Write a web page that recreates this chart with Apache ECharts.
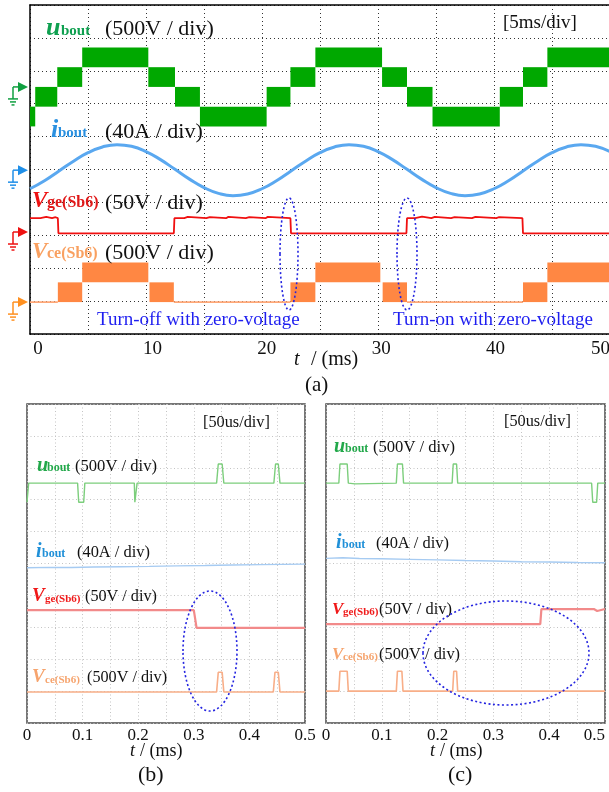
<!DOCTYPE html>
<html>
<head>
<meta charset="utf-8">
<script src="https://cdn.jsdelivr.net/npm/echarts@6/dist/echarts.min.js"></script>
<style>
html, body { margin: 0; padding: 0; background: #fff; }
#chart { width: 609px; height: 792px; }
</style>
</head>
<body>
<div id="chart"></div>
<script>
// ---- panel (a): 5 ms/div, time in ms ----
// u_bout PWM bands: [t start, t end, low V, high V]
const aUBands = [
  [0, 0.45, -600, -300], [0.45, 2.35, -300, 0], [2.35, 4.5, 0, 300], [4.5, 10.2, 300, 600],
  [10.2, 12.5, 0, 300], [12.5, 14.65, -300, 0], [14.65, 20.4, -600, -300], [20.4, 22.45, -300, 0],
  [22.45, 24.6, 0, 300], [24.6, 30.35, 300, 600], [30.35, 32.5, 0, 300], [32.5, 34.7, -300, 0],
  [34.7, 40.5, -600, -300], [40.5, 42.5, -300, 0], [42.5, 44.6, 0, 300], [44.6, 50, 300, 600]
];
// i_bout (A)
const aI = [
  [0, -22.6], [1.25, -12.8], [2.5, -1.0], [3.75, 10.9], [5, 21.2], [6.25, 28.2], [7.5, 31.0], [8.75, 29.0],
  [10, 22.6], [11.25, 12.8], [12.5, 1.0], [13.75, -10.9], [15, -21.2], [16.25, -28.2], [17.5, -31.0], [18.75, -29.0],
  [20, -22.6], [21.25, -12.8], [22.5, -1.0], [23.75, 10.9], [25, 21.2], [26.25, 28.2], [27.5, 31.0], [28.75, 29.0],
  [30, 22.6], [31.25, 12.8], [32.5, 1.0], [33.75, -10.9], [35, -21.2], [36.25, -28.2], [37.5, -31.0], [38.75, -29.0],
  [40, -22.6], [41.25, -12.8], [42.5, -1.0], [43.75, 10.9], [45, 21.2], [46.25, 28.2], [47.5, 31.0], [48.75, 29.0],
  [50, 22.6]
];
// V_ge(Sb6) (V)
const aVge = [
  [0, 21], [0.9, 21], [0.9, 23], [1.4, 23], [1.4, 21], [1.9, 21], [1.9, 22.5], [2.2, 22.5], [2.2, 21],
  [2.4, 21], [2.45, -2], [12.4, -2], [12.45, 21],
  [13.3, 21], [13.3, 23], [13.6, 23], [13.6, 21], [15.2, 21], [15.2, 22.5], [15.5, 22.5], [15.5, 21],
  [16.9, 21], [16.9, 23], [17.1, 23], [17.1, 21], [18.6, 21], [18.6, 22.5], [18.9, 22.5], [18.9, 21],
  [20.3, 21], [20.3, 23], [20.5, 23], [20.5, 21],
  [22.45, 21], [22.5, -2], [32.45, -2], [32.5, 21],
  [33.2, 21], [33.2, 23.5], [33.8, 23.5], [33.8, 21], [34.6, 21], [34.6, 23], [34.9, 23], [34.9, 21],
  [36.3, 21], [36.3, 22.5], [36.6, 22.5], [36.6, 21], [38.1, 21], [38.1, 23], [38.4, 23], [38.4, 21],
  [40.2, 21], [40.2, 22.5], [40.4, 22.5], [40.4, 21],
  [42.45, 21], [42.5, -2], [50, -2]
];
// V_ce(Sb6) bands and the 0 V stretches
const aVceBands = [
  [2.4, 4.5, 0, 300], [4.5, 10.2, 300, 600], [10.3, 12.4, 0, 300],
  [22.45, 24.6, 0, 300], [24.6, 30.2, 300, 600], [30.4, 32.5, 0, 300],
  [42.5, 44.6, 0, 300], [44.6, 50, 300, 600]
];
const aVceZero = [[0, 2.4], [12.4, 22.45], [32.5, 42.5]];
const aTickLabels = [0, 10, 20, 30, 40, 50];

// ---- panel (b): 50 us/div, time in ms ----
const bU = [
  [0, -300], [0.002, -300], [0.003, 0], [0.091, 0], [0.093, -300], [0.102, -300], [0.104, 0],
  [0.193, 0], [0.194, -300], [0.197, -300], [0.198, 0], [0.341, 0], [0.344, 300], [0.351, 300], [0.354, 0],
  [0.444, 0], [0.447, 300], [0.452, 300], [0.455, 0], [0.5, 0]
];
const bI = [[0, -3.4], [0.04, -2.9], [0.08, -3.0], [0.12, -2.4], [0.17, -2.0], [0.22, -1.6], [0.27, -1.0],
  [0.32, -0.6], [0.37, 0.2], [0.42, 0.6], [0.46, 0.9], [0.5, 1.2]];
const bVge = [
  [0, 25], [0.196, 25], [0.197, 23], [0.199, 25], [0.300, 25], [0.302, 14], [0.305, -3],
  [0.346, -3], [0.347, -4.5], [0.350, -3], [0.445, -3], [0.446, -4.5], [0.449, -3], [0.5, -3]
];
const bVce = [
  [0, 0], [0.341, 0], [0.344, 310], [0.351, 310], [0.354, 0],
  [0.443, 0], [0.446, 310], [0.452, 310], [0.455, 0], [0.5, 0]
];

// ---- panel (c) ----
const cU = [
  [0, 0], [0.023, 0], [0.025, 300], [0.038, 300], [0.040, 0], [0.041, -12], [0.052, -12], [0.053, 0],
  [0.126, 0], [0.128, 300], [0.137, 300], [0.139, 0], [0.226, 0], [0.228, 300], [0.234, 300], [0.236, 0],
  [0.476, 0], [0.478, -300], [0.485, -300], [0.487, 0], [0.5, 0]
];
const cI = [[0, 2.0], [0.03, 2.8], [0.06, 1.8], [0.1, 1.5], [0.15, 0.8], [0.2, 0.2], [0.25, -0.6],
  [0.3, -1.2], [0.35, -2.2], [0.4, -2.6], [0.45, -3.2], [0.5, -3.4]];
const cVge = [[0, 3], [0.384, 3], [0.386, 26.6], [0.480, 26.6], [0.481, 23.5], [0.486, 23.5], [0.487, 26.6], [0.5, 26.6]];
const cVce = [
  [0, 0], [0.023, 0], [0.025, 310], [0.038, 310], [0.040, 0], [0.126, 0], [0.128, 310], [0.136, 310], [0.138, 0],
  [0.227, 0], [0.229, 310], [0.234, 310], [0.236, 0], [0.5, 0]
];

// per-division scales and zero offsets (divisions from bottom) of each trace
const perDiv = [500, 40, 50, 500];          // u, i, Vge, Vce
const offA = [7.51, 4.98, 3.10, 0.97];
const offB = [7.52, 4.95, 3.04, 0.97];
const offC = [7.52, 5.11, 3.04, 1.00];

const FONT = '"Liberation Serif", "Times New Roman", serif';
const chart = echarts.init(document.getElementById('chart'));

function bandItem(params, api) {
  const a = api.coord([api.value(0), api.value(3)]);
  const b = api.coord([api.value(1), api.value(2)]);
  return { type: 'rect', shape: { x: a[0], y: a[1], width: b[0] - a[0], height: b[1] - a[1] },
    style: { fill: api.visual('color') } };
}
function groundItem(params, api) {
  const p = api.coord([api.value(0), api.value(1)]);
  const c = api.visual('color');
  const sx = p[0] - 17, y = p[1];
  const ln = (x1, y1, x2, y2) => ({ type: 'line', shape: { x1, y1, x2, y2 }, style: { stroke: c, lineWidth: 1.5 } });
  return { type: 'group', children: [
    { type: 'polygon', shape: { points: [[p[0] - 12, y - 5], [p[0] - 2, y], [p[0] - 12, y + 5]] }, style: { fill: c } },
    ln(sx, y, p[0] - 12, y), ln(sx, y, sx, y + 12),
    ln(sx - 5, y + 12, sx + 5, y + 12), ln(sx - 3, y + 15, sx + 3, y + 15), ln(sx - 1.5, y + 18, sx + 1.5, y + 18)
  ] };
}

const frameA = { show: true, onZero: false, lineStyle: { color: '#000', width: 1.5 } };

function traceAxis(g, off, k) {
  return { type: 'value', gridIndex: g, min: -off * k, max: (10 - off) * k, show: false };
}
function divAxis(g, color, dash) {
  return { type: 'value', gridIndex: g, min: 0, max: 10, interval: 1, position: 'left',
    axisLine: g === 0 ? frameA : { show: false }, axisTick: { show: false }, axisLabel: { show: false },
    splitLine: { show: true, lineStyle: { color: color, type: dash, width: 1 } } };
}
const yAxes = [];
[[offA, '#333', [1, 3]], [offB, '#c4c4c4', [1, 2.5]], [offC, '#c4c4c4', [1, 2.5]]].forEach((cfg, g) => {
  yAxes.push(divAxis(g, cfg[1], cfg[2]));
  cfg[0].forEach((o, k) => yAxes.push(traceAxis(g, o, perDiv[k])));
});
const yIdx = (g, k) => g * 5 + 1 + k;

const lightGrid = { color: '#c4c4c4', type: [1, 2.5], width: 1 };
function msAxis(g, alignMax) {
  return { type: 'value', gridIndex: g, min: 0, max: 0.5, interval: 0.1, position: 'bottom',
    axisLine: { show: false }, axisTick: { show: false },
    axisLabel: { margin: 4, fontSize: 17, fontFamily: FONT, color: '#111', alignMaxLabel: alignMax,
      formatter: v => (v === 0 ? '0' : v.toFixed(1)) },
    splitLine: { show: true, lineStyle: lightGrid },
    minorTick: { show: false, splitNumber: 2 },
    minorSplitLine: { show: true, lineStyle: lightGrid } };
}

const xAxes = [
  { type: 'value', gridIndex: 0, min: 0, max: 50, interval: 5, position: 'bottom',
    axisLine: frameA, axisTick: { show: false }, axisLabel: { show: false },
    splitLine: { show: true, lineStyle: { color: '#333', type: [1, 3], width: 1 } } },
  { type: 'value', gridIndex: 0, min: -0.7, max: 50, position: 'bottom',
    axisLine: { show: false }, axisTick: { show: false }, splitLine: { show: false },
    axisLabel: { margin: 6, fontSize: 19, fontFamily: FONT, color: '#111', alignMaxLabel: 'right',
      formatter: v => (aTickLabels.indexOf(Math.round(v * 1000) / 1000) >= 0 ? String(v) : '') } },
  { type: 'value', gridIndex: 0, min: 0, max: 50, position: 'top',
    axisLine: frameA, axisTick: { show: false }, axisLabel: { show: false }, splitLine: { show: false } },
  msAxis(1, 'center'),
  msAxis(2, 'right')
];

const series = [];
function line(xi, yi, data, color, width, smooth) {
  series.push({ type: 'line', xAxisIndex: xi, yAxisIndex: yi, data: data, symbol: 'none', smooth: !!smooth,
    silent: true, lineStyle: { color: color, width: width }, itemStyle: { color: color } });
}
function bands(xi, yi, data, color) {
  series.push({ type: 'custom', xAxisIndex: xi, yAxisIndex: yi, data: data, renderItem: bandItem,
    encode: { x: [0, 1], y: [2, 3] }, itemStyle: { color: color }, silent: true, clip: true });
}
function ground(yi, color) {
  series.push({ type: 'custom', xAxisIndex: 0, yAxisIndex: yi, data: [[0, 0]], renderItem: groundItem,
    itemStyle: { color: color }, silent: true, clip: false, z: 5 });
}

// (a)
bands(0, yIdx(0, 0), aUBands, '#00a800');
line(0, yIdx(0, 1), aI, '#5aa8f0', 3, 0.5);
line(0, yIdx(0, 2), aVge, '#f01010', 1.8);
const aVceLine = [];
aVceZero.forEach(s => { aVceLine.push([s[0], 0], [s[1], 0], [s[1], '-']); });
line(0, yIdx(0, 3), aVceLine, '#ffa878', 1.8);
bands(0, yIdx(0, 3), aVceBands, '#ff8743');
ground(yIdx(0, 0), '#10a040');
ground(yIdx(0, 1), '#1f8fe8');
ground(yIdx(0, 2), '#ee1111');
ground(yIdx(0, 3), '#ff9020');

// (b)
line(3, yIdx(1, 0), bU, '#7cce7c', 1.4);
line(3, yIdx(1, 1), bI, '#a6cbf2', 1.4);
line(3, yIdx(1, 2), bVge, '#f28a8a', 2.2);
line(3, yIdx(1, 3), bVce, '#f8ae88', 1.6);
// (c)
line(4, yIdx(2, 0), cU, '#7cce7c', 1.4);
line(4, yIdx(2, 1), cI, '#a6cbf2', 1.4);
line(4, yIdx(2, 2), cVge, '#f28a8a', 2.2);
line(4, yIdx(2, 3), cVce, '#f8ae88', 1.6);

// text helpers
function txt(x, base, s, size, color, style) {
  return { type: 'text', x: x, y: base - 0.3 * size, silent: true, z: 10,
    style: { text: s, font: (style || '') + ' ' + size + 'px ' + FONT, fill: color || '#111',
      align: 'left', verticalAlign: 'middle' } };
}
function ell(cx, cy, rx, ry) {
  return { type: 'ellipse', shape: { cx, cy, rx, ry }, silent: true, z: 10,
    style: { fill: 'none', stroke: '#2424e0', lineWidth: 1.6, lineDash: [2, 2.5] } };
}
const BI = 'italic bold', B = 'bold';
const g = [
  // (a)
  txt(46, 36, 'u', 26, '#0fa050', BI), txt(61, 36, 'bout', 15, '#0fa050', B), txt(105, 36, '(500V / div)', 22),
  txt(503, 29, '[5ms/div]', 19),
  txt(51, 138, 'i', 26, '#2a90e0', BI), txt(58, 138, 'bout', 15, '#2a90e0', B), txt(105, 139, '(40A / div)', 22),
  txt(32, 208, 'V', 23, '#ee1111', BI), txt(47, 208, 'ge(Sb6)', 16, '#e01818', B), txt(105, 210, '(50V / div)', 22),
  txt(32, 259, 'V', 23, '#f9a060', BI), txt(47, 259, 'ce(Sb6)', 16, '#f9a060', B), txt(105, 260, '(500V / div)', 22),
  txt(97, 326, 'Turn-off with zero-voltage', 19, '#1e1ef0'),
  txt(393, 326, 'Turn-on with zero-voltage', 19, '#1e1ef0'),
  txt(294, 366, 't', 20, '#111', 'italic'), txt(311, 366, '/ (ms)', 20),
  txt(305, 392, '(a)', 21),
  ell(289, 254, 9, 56), ell(407, 254, 10, 56),
  // (b)
  txt(37, 472, 'u', 20, '#22a84a', BI), txt(47, 472, 'bout', 12, '#22a84a', B), txt(75, 472, '(500V / div)', 16.6),
  txt(203, 428, '[50us/div]', 16.3),
  txt(36, 558, 'i', 20, '#2090d8', BI), txt(42, 558, 'bout', 12, '#2090d8', B), txt(77, 558, '(40A / div)', 16.4),
  txt(32, 602, 'V', 19, '#f01818', BI), txt(45, 602, 'ge(Sb6)', 11, '#f01818', B), txt(85, 602, '(50V / div)', 16.2),
  txt(32, 683, 'V', 19, '#f6a46e', BI), txt(45, 683, 'ce(Sb6)', 11, '#f6a46e', B), txt(87, 683, '(500V / div)', 16.2),
  txt(130, 757, 't', 18, '#111', 'italic'), txt(140, 757, '/ (ms)', 18),
  txt(138, 782, '(b)', 22),
  ell(210, 651, 27, 60),
  // (c)
  txt(334, 453, 'u', 20, '#22a84a', BI), txt(345, 453, 'bout', 12, '#22a84a', B), txt(373, 453, '(500V / div)', 16.6),
  txt(504, 427, '[50us/div]', 16.3),
  txt(336, 549, 'i', 20, '#2090d8', BI), txt(342, 549, 'bout', 12, '#2090d8', B), txt(376, 549, '(40A / div)', 16.4),
  txt(332, 615, 'V', 17, '#f01818', BI), txt(343, 615, 'ge(Sb6)', 11, '#f01818', B), txt(379, 615, '(50V / div)', 16.4),
  txt(332, 660, 'V', 17, '#f6a46e', BI), txt(343, 660, 'ce(Sb6)', 11, '#f6a46e', B), txt(379, 660, '(500V / div)', 16.4),
  txt(430, 757, 't', 18, '#111', 'italic'), txt(440, 757, '/ (ms)', 18),
  txt(448, 782, '(c)', 22),
  ell(506, 653, 83, 52)
];

chart.setOption({
  animation: false,
  backgroundColor: '#fff',
  grid: [
    { left: 30, top: 5, width: 580, height: 329, show: false, outerBoundsMode: 'none', containLabel: false },
    { left: 27, top: 404, width: 278, height: 319, show: true, borderColor: '#4a4a4a', borderWidth: 1.5, outerBoundsMode: 'none', containLabel: false },
    { left: 326, top: 404, width: 279, height: 319, show: true, borderColor: '#4a4a4a', borderWidth: 1.5, outerBoundsMode: 'none', containLabel: false }
  ],
  xAxis: xAxes,
  yAxis: yAxes,
  series: series,
  graphic: g
});
</script>
</body>
</html>
